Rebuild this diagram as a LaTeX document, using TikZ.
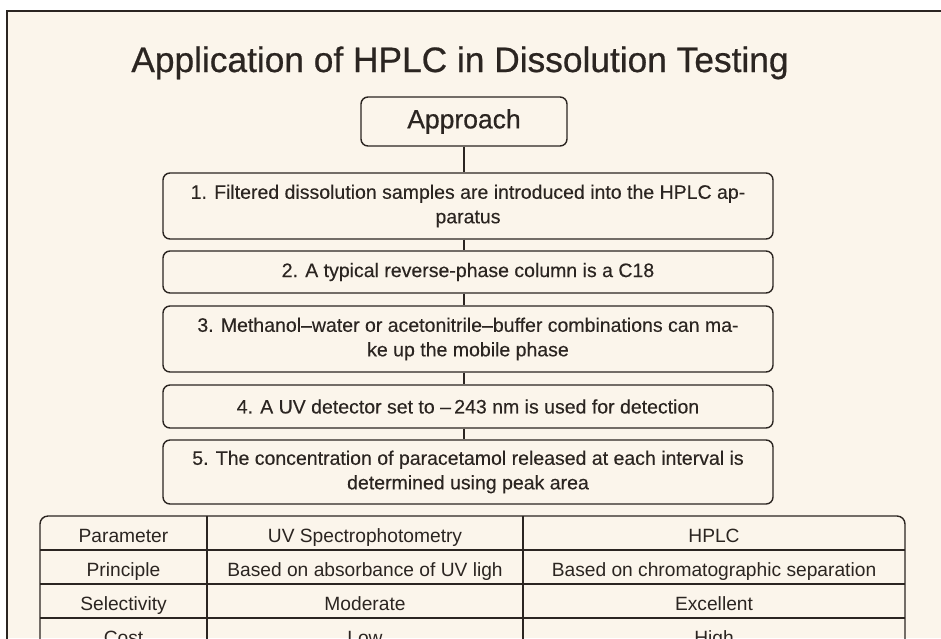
\documentclass[tikz,border=0pt]{standalone}
\usepackage{fontspec}
\setmainfont{Liberation Sans}
\newfontfamily\headfont[FakeBold=0.6]{Liberation Sans}
\newfontfamily\boxfont[FakeBold=0.25]{Liberation Sans}
\definecolor{ink}{HTML}{2B2521}
\definecolor{cream}{HTML}{FBF5EB}
\begin{document}
\begin{tikzpicture}[x=1pt,y=-1pt,
  box/.style={draw=ink, line width=1.4pt, rounded corners=7pt, fill=cream, text=ink,
    align=center, inner sep=0pt, minimum width=610, font=\boxfont\fontsize{19.5}{24.5}\selectfont},
  link/.style={draw=ink, line width=1.4pt},
  cell/.style={text=ink, inner sep=0pt, anchor=base, font=\fontsize{19.2}{23}\selectfont},
  rule/.style={draw=ink, line width=1.4pt}]
\useasboundingbox (0,0) rectangle (941,638);
\clip (0,0) rectangle (941,638);
\fill[white] (0,0) rectangle (941,638);
\fill[cream] (7,11) rectangle (941,638);
\draw[ink, line width=1.5pt] (7,645) -- (7,11) -- (945,11);

% title
\node[text=ink, anchor=base, inner sep=0pt, font=\headfont\fontsize{35.3}{40}\selectfont] (title) at (460,72)
  {Application of HPLC in Dissolution Testing};

% flow
\node[box, minimum width=206, minimum height=49] (ap) at (464,121.5)
  {\headfont\fontsize{26.5}{30}\selectfont Approach};
\node[box, minimum height=66] (b1) at (468,206)
  {1. Filtered dissolution samples are introduced into the HPLC ap-\\paratus};
\node[box, minimum height=42] (b2) at (468,272)
  {2. A typical reverse-phase column is a C18};
\node[box, minimum height=66] (b3) at (468,339)
  {3. Methanol–water or acetonitrile–buffer combinations can ma-\\ke up the mobile phase};
\node[box, minimum height=43] (b4) at (468,406.5)
  {4. A UV detector set to –\,243 nm is used for detection};
\node[box, minimum height=64] (b5) at (468,472)
  {5. The concentration of paracetamol released at each interval is\\determined using peak area};

\draw[link] (ap.south) -- (ap.south |- b1.north);
\draw[link] (b1.south -| ap.south) -- (b2.north -| ap.south);
\draw[link] (b2.south -| ap.south) -- (b3.north -| ap.south);
\draw[link] (b3.south -| ap.south) -- (b4.north -| ap.south);
\draw[link] (b4.south -| ap.south) -- (b5.north -| ap.south);

% table
\draw[rule, rounded corners=8pt] (40,670) -- (40,516) -- (905,516) -- (905,670);
\draw[rule] (40,550) -- (905,550);
\draw[rule] (40,584) -- (905,584);
\draw[rule] (40,618) -- (905,618);
\draw[rule] (207,516) -- (207,670);
\draw[rule] (523,516) -- (523,670);

\node[cell] (h1) at (123.5,542) {Parameter};
\node[cell] (h2) at (365,542) {UV Spectrophotometry};
\node[cell] (h3) at (714,542) {HPLC};
\node[cell] (p1) at (123.5,576) {Principle};
\node[cell] (p2) at (365,576) {Based on absorbance of UV ligh};
\node[cell] (p3) at (714,576) {Based on chromatographic separation};
\node[cell] (s1) at (123.5,610) {Selectivity};
\node[cell] (s2) at (365,610) {Moderate};
\node[cell] (s3) at (714,610) {Excellent};
\node[cell] (c1) at (123.5,644) {Cost};
\node[cell] (c2) at (365,644) {Low};
\node[cell] (c3) at (714,644) {High};
\end{tikzpicture}
\end{document}
